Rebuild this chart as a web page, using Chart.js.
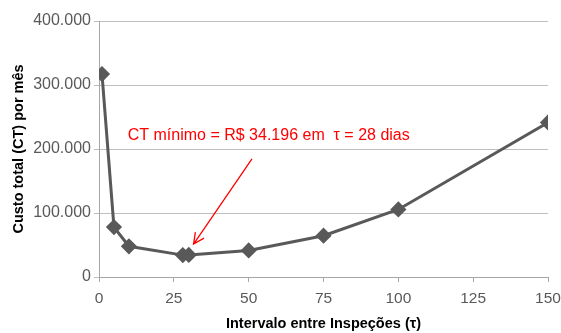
<!DOCTYPE html>
<html>
<head>
<meta charset="utf-8">
<script src="https://cdn.jsdelivr.net/npm/chart.js@4/dist/chart.umd.min.js"></script>
<style>
  html, body { margin: 0; padding: 0; background: #fff; }
  #wrap { width: 561px; height: 333px; }
</style>
</head>
<body>
<div id="wrap"><canvas id="c" width="561" height="333"></canvas></div>
<script>
// Intervalo entre inspeções (dias) e custo total mensal (R$)
const intervals = [1, 5, 10, 28, 30, 50, 75, 100, 150];
const costs = [317000, 78000, 48000, 34196, 34500, 41500, 64500, 105500, 241500];

const xTicks = [0, 25, 50, 75, 100, 125, 150];
const yTicks = [0, 100000, 200000, 300000, 400000];

// Anotação do mínimo: texto e seta (coordenadas em unidades dos eixos)
const noteText = 'CT mínimo = R$ 34.196 em  τ = 28 dias';
const noteAt = { x: 9.6, y: 221000 };
const arrowFrom = { x: 51.1, y: 184600 };
const arrowTo = { x: 31.6, y: 51500 };

const fmt = v => String(Math.round(v)).replace(/\B(?=(\d{3})+(?!\d))/g, '.');

const FONT = "'Liberation Sans', Arial, sans-serif";
const GREY = '#595959';

const annotate = {
  id: 'annotate',
  afterDatasetsDraw(chart) {
    const { ctx, scales: { x, y } } = chart;
    ctx.save();
    ctx.fillStyle = '#ff0000';
    ctx.font = `16px ${FONT}`;
    ctx.textBaseline = 'middle';
    ctx.fillText(noteText, x.getPixelForValue(noteAt.x), y.getPixelForValue(noteAt.y));

    const x1 = x.getPixelForValue(arrowFrom.x), y1 = y.getPixelForValue(arrowFrom.y);
    const x2 = x.getPixelForValue(arrowTo.x), y2 = y.getPixelForValue(arrowTo.y);
    ctx.strokeStyle = '#ff0000';
    ctx.lineWidth = 1.3;
    ctx.beginPath();
    ctx.moveTo(x1, y1);
    ctx.lineTo(x2, y2);
    const a = Math.atan2(y2 - y1, x2 - x1);
    const L = 12, spread = 0.45;
    ctx.moveTo(x2 - L * Math.cos(a - spread), y2 - L * Math.sin(a - spread));
    ctx.lineTo(x2, y2);
    ctx.lineTo(x2 - L * Math.cos(a + spread), y2 - L * Math.sin(a + spread));
    ctx.stroke();
    ctx.restore();
  }
};

new Chart(document.getElementById('c'), {
  type: 'line',
  data: {
    datasets: [{
      data: intervals.map((t, i) => ({ x: t, y: costs[i] })),
      borderColor: GREY,
      backgroundColor: GREY,
      borderWidth: 3,
      pointStyle: 'rectRot',
      pointRadius: 6,
      pointHoverRadius: 6,
      tension: 0
    }]
  },
  options: {
    responsive: false,
    animation: false,
    layout: { padding: { top: 21, right: 13, left: 0, bottom: 0 } },
    plugins: { legend: { display: false }, tooltip: { enabled: false } },
    scales: {
      x: {
        type: 'linear',
        min: 0, max: 150,
        afterBuildTicks: s => { s.ticks = xTicks.map(v => ({ value: v })); },
        afterFit: s => { s.height = 56; s.paddingLeft = 0; s.paddingRight = 0; },
        ticks: { color: GREY, font: { family: FONT, size: 15.5 }, padding: 7 },
        grid: { drawOnChartArea: false, tickLength: 5, color: '#a6a6a6' },
        border: { color: '#a6a6a6' },
        title: {
          display: true,
          text: 'Intervalo entre Inspeções (τ)',
          color: '#000',
          font: { family: FONT, size: 14.5, weight: 'bold' },
          padding: { top: 4, bottom: 0 }
        }
      },
      y: {
        min: 0, max: 400000,
        afterBuildTicks: s => { s.ticks = yTicks.map(v => ({ value: v })); },
        afterFit: s => { s.width = 99; s.paddingTop = 0; s.paddingBottom = 0; },
        ticks: { color: GREY, font: { family: FONT, size: 16 }, padding: 3, callback: v => fmt(v) },
        grid: { color: '#bfbfbf', tickLength: 5 },
        border: { color: '#a6a6a6' },
        title: {
          display: true,
          text: 'Custo total (CT) por mês',
          color: '#000',
          font: { family: FONT, size: 14.5, weight: 'bold' },
          padding: { top: 10, bottom: 4 }
        }
      }
    }
  },
  plugins: [annotate]
});
</script>
</body>
</html>
